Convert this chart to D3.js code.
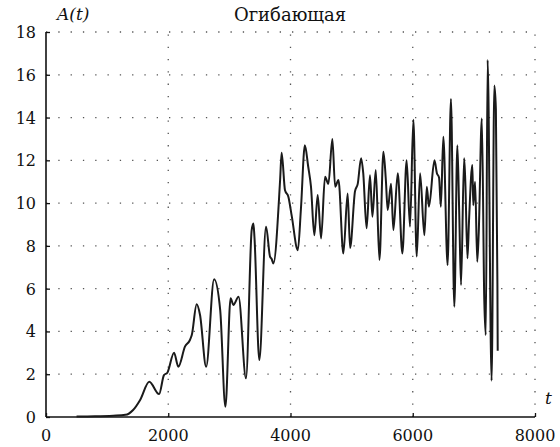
<!DOCTYPE html>
<html>
<head>
<meta charset="utf-8">
<script src="https://cdn.jsdelivr.net/npm/d3@7"></script>
<style>
  body { margin: 0; background: #fff; }
  text { font-family: "DejaVu Serif", serif; fill: #111; }
</style>
</head>
<body>
<div id="wrapper"></div>
<script>
// values
const tValues = [500, 800, 1100, 1300, 1425, 1540, 1690, 1850, 1930, 1985,
  2095, 2165, 2275, 2355, 2385, 2465, 2520, 2620, 2750, 2850,
  2935, 3020, 3065, 3150, 3272, 3365, 3393, 3410, 3490, 3600,
  3665, 3690, 3720, 3830, 3855, 3910, 3965, 4020, 4120, 4170,
  4235, 4290, 4335, 4390, 4445, 4500, 4565, 4620, 4685, 4730,
  4785, 4865, 4935, 4975, 5055, 5100, 5155, 5190, 5245, 5300,
  5340, 5395, 5455, 5520, 5560, 5590, 5645, 5683, 5755, 5830,
  5900, 5955, 6010, 6065, 6120, 6190, 6230, 6265, 6355, 6395,
  6430, 6460, 6500, 6570, 6625, 6680, 6730, 6760, 6790, 6840,
  6860, 6895, 6920, 6975, 6990, 7020, 7055, 7080, 7130, 7170,
  7195, 7225, 7290, 7335, 7360, 7385, 7390];
const aValues = [0.02, 0.03, 0.06, 0.1, 0.33, 0.8, 1.65, 1.07, 1.96, 2.07,
  3.0, 2.35, 3.3, 3.6, 3.83, 5.27, 4.77, 2.35, 6.44, 5.0,
  0.48, 5.55, 5.24, 5.62, 1.81, 8.74, 9.05, 8.43, 2.66, 8.9,
  7.5, 7.4, 7.18, 11.08, 12.36, 10.6, 10.3, 9.4, 7.8, 9.7,
  12.7, 11.7, 10.77, 8.5, 10.38, 8.35, 11.23, 10.9, 13.0, 10.77,
  11.08, 7.64, 10.45, 7.9, 10.55, 10.9, 12.1, 11.4, 8.82, 11.3,
  9.36, 11.55, 7.34, 12.4, 11.08, 9.68, 10.9, 8.74, 11.4, 7.64,
  12.0, 8.9, 13.9, 7.5, 11.4, 8.5, 10.77, 9.83, 12.0, 11.4,
  11.2, 9.83, 13.1, 7.1, 14.87, 5.16, 12.7, 9.6, 6.17, 12.1,
  11.0, 7.42, 9.13, 11.78, 9.9, 11.0, 7.26, 8.66, 13.96, 5.5,
  3.83, 16.69, 1.7, 15.5, 14.4, 6.2, 3.1];
const xTicks = [0, 2000, 4000, 6000, 8000];
const yTicks = [0, 2, 4, 6, 8, 10, 12, 14, 16, 18];
const title = "Огибающая";

const dimensions = { width: 560, height: 447 };
const margin = { left: 46, right: 25, top: 32, bottom: 30 };

const xScale = d3.scaleLinear()
  .domain([0, 8000])
  .range([margin.left, dimensions.width - margin.right]);
const yScale = d3.scaleLinear()
  .domain([0, 18])
  .range([dimensions.height - margin.bottom, margin.top]);

const svg = d3.select("#wrapper").append("svg")
  .attr("width", dimensions.width)
  .attr("height", dimensions.height);

// dotted grid
svg.append("g").selectAll("line")
  .data(yTicks.filter(d => d > 0))
  .join("line")
  .attr("x1", xScale(0)).attr("x2", xScale(8000))
  .attr("y1", d => yScale(d)).attr("y2", d => yScale(d))
  .attr("stroke", "#555").attr("stroke-width", 1.3)
  .attr("stroke-dasharray", "1.3 11");
svg.append("g").selectAll("line")
  .data(xTicks.filter(d => d > 0))
  .join("line")
  .attr("x1", d => xScale(d)).attr("x2", d => xScale(d))
  .attr("y1", yScale(0)).attr("y2", yScale(18))
  .attr("stroke", "#555").attr("stroke-width", 1.3)
  .attr("stroke-dasharray", "1.3 11");

// axes
const xAxis = d3.axisTop(xScale).tickValues(xTicks).tickSize(4).tickFormat("");
const yAxis = d3.axisRight(yScale).tickValues(yTicks).tickSize(4).tickFormat("");
svg.append("g").attr("transform", `translate(0,${yScale(0)})`).call(xAxis)
  .call(g => g.select(".domain").remove())
  .selectAll("line").attr("stroke", "#111").attr("stroke-width", 1.3);
svg.append("g").attr("transform", `translate(${xScale(0)},0)`).call(yAxis)
  .call(g => g.select(".domain").remove())
  .selectAll("line").attr("stroke", "#111").attr("stroke-width", 1.3);
svg.append("line")
  .attr("x1", xScale(0)).attr("x2", xScale(8000))
  .attr("y1", yScale(0)).attr("y2", yScale(0))
  .attr("stroke", "#111").attr("stroke-width", 1.6);
svg.append("line")
  .attr("x1", xScale(0)).attr("x2", xScale(0))
  .attr("y1", yScale(0)).attr("y2", yScale(18))
  .attr("stroke", "#111").attr("stroke-width", 1.6);

// tick labels
svg.append("g").selectAll("text")
  .data(xTicks)
  .join("text")
  .attr("x", d => xScale(d))
  .attr("y", 441)
  .attr("text-anchor", "middle")
  .attr("font-size", 16)
  .text(d => d);
svg.append("g").selectAll("text")
  .data(yTicks)
  .join("text")
  .attr("x", 36)
  .attr("y", d => yScale(d) + 6)
  .attr("text-anchor", "end")
  .attr("font-size", 16)
  .text(d => d);

// the envelope curve
const points = tValues.map((t, i) => [t, aValues[i]]);
const line = d3.line()
  .x(d => xScale(d[0]))
  .y(d => yScale(d[1]))
  .curve(d3.curveMonotoneX);
svg.append("path")
  .datum(points)
  .attr("d", line)
  .attr("fill", "none")
  .attr("stroke", "#1a1a1a")
  .attr("stroke-width", 2)
  .attr("stroke-linejoin", "round");

// titles
svg.append("text")
  .attr("x", 290).attr("y", 21)
  .attr("text-anchor", "middle")
  .attr("font-size", 18)
  .text(title);
svg.append("text")
  .attr("x", 57).attr("y", 20)
  .attr("font-size", 17)
  .attr("font-style", "italic")
  .text("A(t)");
svg.append("text")
  .attr("x", 545).attr("y", 404)
  .attr("font-size", 17)
  .attr("font-style", "italic")
  .text("t");
</script>
</body>
</html>
